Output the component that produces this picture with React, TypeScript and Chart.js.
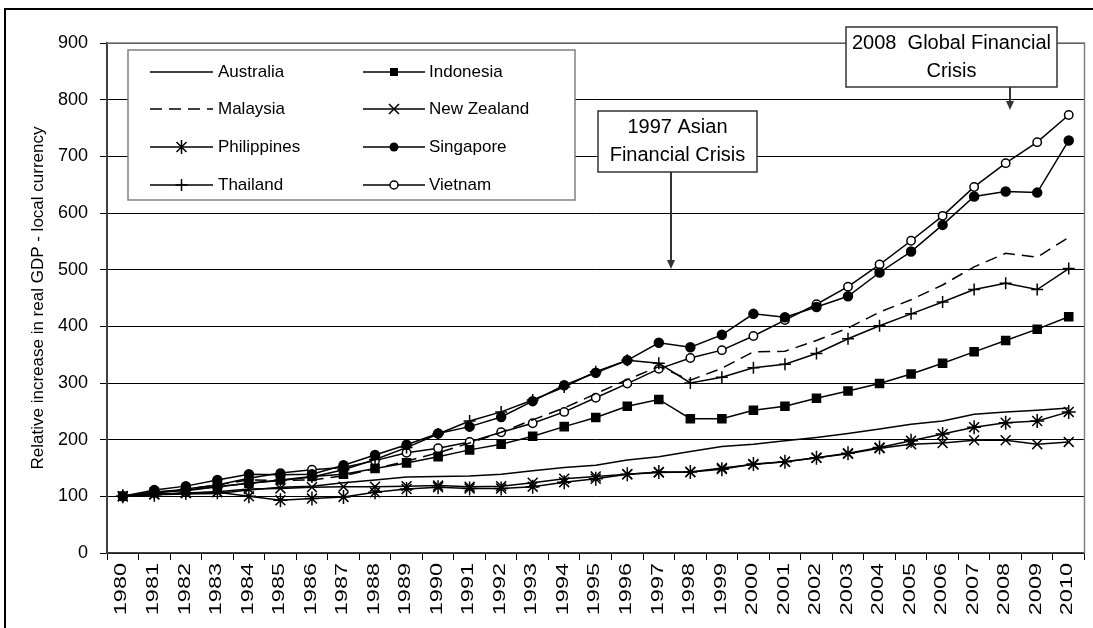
import React, { useEffect, useRef } from "react";
import { Chart, registerables } from "chart.js";

Chart.register(...registerables);

const years = ["1980","1981","1982","1983","1984","1985","1986","1987","1988","1989","1990","1991","1992","1993","1994","1995","1996","1997","1998","1999","2000","2001","2002","2003","2004","2005","2006","2007","2008","2009","2010"];

const australia = [100,103,104,105,111,116,118,124,129,134,135,136,139,145,151,155,164,170,179,188,192,198,204,211,219,227,233,245,249,252,256];
const indonesia = [100,108,110,117,123,129,135,139,149,159,170,182,192,206,223,239,259,271,237,237,252,259,273,286,299,316,335,355,375,395,417];
const malaysia = [100,107,113,120,129,128,129,136,149,162,177,194,213,235,256,281,306,329,305,326,355,356,375,397,425,447,473,505,529,522,557];
const newZealand = [100,104,106,108,113,114,116,117,117,118,119,117,118,124,131,135,139,142,143,150,156,161,168,175,185,192,194,199,199,192,196];
const philippines = [100,103,106,107,100,93,96,99,107,113,116,114,114,117,125,131,139,143,143,148,157,161,168,176,186,198,210,222,230,233,249];
const singapore = [100,111,118,129,139,138,139,155,173,191,211,223,240,268,296,318,340,371,363,385,422,416,434,453,495,532,579,629,638,636,728];
const thailand = [100,106,111,117,123,128,134,147,165,186,210,233,249,270,293,320,340,335,300,310,327,333,352,378,401,422,443,465,476,465,502];
const vietnam = [100,106,113,120,132,141,147,151,163,177,185,196,213,229,249,274,299,325,344,358,383,411,439,470,509,551,595,646,688,725,773];

const yTicks = [0,100,200,300,400,500,600,700,800,900];
const yTitle = "Relative increase in real GDP - local currency";
const note1997 = ["1997 Asian", "Financial Crisis"];
const note2008 = ["2008  Global Financial", "Crisis"];

const FONT = "'Liberation Sans', Arial, sans-serif";

type Marker = "none" | "rect" | "circle" | "open" | "crossRot" | "star" | "cross";

const seriesDefs: { name: string; data: number[]; marker: Marker; dash?: number[] }[] = [
  { name: "Australia", data: australia, marker: "none" },
  { name: "Indonesia", data: indonesia, marker: "rect" },
  { name: "Malaysia", data: malaysia, marker: "none", dash: [12, 7] },
  { name: "New Zealand", data: newZealand, marker: "crossRot" },
  { name: "Philippines", data: philippines, marker: "star" },
  { name: "Singapore", data: singapore, marker: "circle" },
  { name: "Thailand", data: thailand, marker: "cross" },
  { name: "Vietnam", data: vietnam, marker: "open" },
];

function drawMarker(ctx: CanvasRenderingContext2D, m: Marker, x: number, y: number) {
  ctx.save();
  ctx.strokeStyle = "#000";
  ctx.fillStyle = "#000";
  ctx.lineWidth = 1.5;
  if (m === "rect") {
    ctx.fillRect(x - 4, y - 4, 8, 8);
  } else if (m === "circle") {
    ctx.beginPath(); ctx.arc(x, y, 4.5, 0, Math.PI * 2); ctx.fill();
  } else if (m === "open") {
    ctx.beginPath(); ctx.arc(x, y, 4, 0, Math.PI * 2); ctx.fillStyle = "#fff"; ctx.fill(); ctx.stroke();
  } else if (m === "crossRot" || m === "star") {
    const d = 5;
    ctx.beginPath();
    ctx.moveTo(x - d, y - d); ctx.lineTo(x + d, y + d);
    ctx.moveTo(x + d, y - d); ctx.lineTo(x - d, y + d);
    if (m === "star") { ctx.moveTo(x, y - 7); ctx.lineTo(x, y + 7); }
    ctx.stroke();
  } else if (m === "cross") {
    ctx.beginPath();
    ctx.moveTo(x - 6, y); ctx.lineTo(x + 6, y);
    ctx.moveTo(x, y - 6); ctx.lineTo(x, y + 6);
    ctx.stroke();
  }
  ctx.restore();
}

function drawArrow(ctx: CanvasRenderingContext2D, x: number, y1: number, y2: number) {
  ctx.save();
  ctx.strokeStyle = "#333";
  ctx.fillStyle = "#333";
  ctx.lineWidth = 2;
  ctx.beginPath(); ctx.moveTo(x, y1); ctx.lineTo(x, y2 - 8); ctx.stroke();
  ctx.beginPath(); ctx.moveTo(x - 4, y2 - 9); ctx.lineTo(x + 4, y2 - 9); ctx.lineTo(x, y2); ctx.closePath(); ctx.fill();
  ctx.restore();
}

function drawNote(ctx: CanvasRenderingContext2D, x: number, y: number, w: number, h: number, lines: string[]) {
  ctx.save();
  ctx.fillStyle = "#fff";
  ctx.fillRect(x, y, w, h);
  ctx.strokeStyle = "#333";
  ctx.lineWidth = 1.5;
  ctx.strokeRect(x, y, w, h);
  ctx.fillStyle = "#000";
  ctx.font = `20px ${FONT}`;
  ctx.textAlign = "center";
  ctx.textBaseline = "middle";
  const lh = 28;
  const cy = y + h / 2 - ((lines.length - 1) * lh) / 2;
  lines.forEach((t, i) => ctx.fillText(t, x + w / 2, cy + i * lh));
  ctx.restore();
}

const overlayPlugin = {
  id: "overlay",
  beforeDraw(chart: any) {
    const ctx = chart.ctx as CanvasRenderingContext2D;
    ctx.save();
    ctx.fillStyle = "#fff";
    ctx.fillRect(0, 0, chart.width, chart.height);
    ctx.strokeStyle = "#000";
    ctx.lineWidth = 2;
    ctx.beginPath();
    ctx.moveTo(5, chart.height + 5);
    ctx.lineTo(5, 9);
    ctx.lineTo(chart.width + 5, 9);
    ctx.stroke();
    ctx.restore();
  },
  afterDraw(chart: any) {
    const ctx = chart.ctx as CanvasRenderingContext2D;
    const { left, top, right } = chart.chartArea;
    const xs = chart.scales.x;
    const y0 = chart.scales.y.getPixelForValue(0);
    ctx.save();
    ctx.strokeStyle = "#808080";
    ctx.lineWidth = 1.5;
    ctx.beginPath();
    ctx.moveTo(left, top); ctx.lineTo(right, top); ctx.lineTo(right, y0);
    ctx.stroke();
    ctx.restore();

    // x tick labels (rotated, elongated like the reference rendering)
    ctx.save();
    ctx.fillStyle = "#000";
    ctx.font = `17px ${FONT}`;
    ctx.textAlign = "right";
    ctx.textBaseline = "middle";
    years.forEach((lab, i) => {
      const px = xs.getPixelForValue(i);
      ctx.save();
      ctx.translate(px - 1, y0 + 10);
      ctx.rotate(-Math.PI / 2);
      ctx.scale(1.38, 1);
      ctx.fillText(lab, 0, 0);
      ctx.restore();
    });
    ctx.restore();

    // legend
    ctx.save();
    ctx.fillStyle = "#fff";
    ctx.fillRect(128, 50, 447, 150);
    ctx.strokeStyle = "#808080";
    ctx.lineWidth = 1.5;
    ctx.strokeRect(128, 50, 447, 150);
    const rows = [72, 109, 147, 185];
    const cols = [
      { x0: 150, x1: 213, tx: 218 },
      { x0: 363, x1: 425, tx: 429 },
    ];
    seriesDefs.forEach((s, i) => {
      const c = cols[i % 2];
      const y = rows[Math.floor(i / 2)];
      ctx.save();
      ctx.strokeStyle = "#000";
      ctx.lineWidth = 1.5;
      if (s.dash) ctx.setLineDash(s.dash);
      ctx.beginPath(); ctx.moveTo(c.x0, y); ctx.lineTo(c.x1, y); ctx.stroke();
      ctx.restore();
      drawMarker(ctx, s.marker, (c.x0 + c.x1) / 2, y);
      ctx.fillStyle = "#000";
      ctx.font = `17px ${FONT}`;
      ctx.textAlign = "left";
      ctx.textBaseline = "middle";
      ctx.fillText(s.name, c.tx, y);
    });
    ctx.restore();

    // annotations
    drawNote(ctx, 598, 111, 159, 61, note1997);
    drawArrow(ctx, 671, 172, 269);
    drawNote(ctx, 846, 27, 211, 60, note2008);
    drawArrow(ctx, 1010, 87, 110);
  },
};

const pointStyleFor = (m: Marker): any => {
  switch (m) {
    case "rect": return "rect";
    case "circle": return "circle";
    case "open": return "circle";
    case "crossRot": return "crossRot";
    case "star": return "star";
    case "cross": return "cross";
    default: return false;
  }
};
const radiusFor = (m: Marker) => {
  switch (m) {
    case "rect": return 5.7;
    case "circle": return 4.5;
    case "open": return 4.2;
    case "crossRot": return 7;
    case "star": return 7;
    case "cross": return 6;
    default: return 0;
  }
};

export default function App() {
  const ref = useRef<HTMLCanvasElement | null>(null);
  useEffect(() => {
    if (!ref.current) return;
    const chart = new Chart(ref.current, {
      type: "line",
      data: {
        labels: years,
        datasets: seriesDefs.map((s) => ({
          label: s.name,
          data: s.data,
          borderColor: "#000",
          borderWidth: 1.5,
          borderDash: s.dash || [],
          backgroundColor: s.marker === "open" ? "#fff" : "#000",
          pointStyle: pointStyleFor(s.marker),
          pointRadius: radiusFor(s.marker),
          pointBorderColor: "#000",
          pointBackgroundColor: s.marker === "open" ? "#fff" : "#000",
          pointBorderWidth: 1.5,
          tension: 0,
          fill: false,
        })),
      },
      options: {
        responsive: false,
        animation: false,
        events: [],
        layout: { padding: { left: 0, top: 43, right: 6, bottom: 0 } },
        plugins: {
          legend: { display: false },
          tooltip: { enabled: false },
          title: { display: false },
        },
        scales: {
          x: {
            type: "category",
            offset: true,
            grid: {
              offset: true,
              drawOnChartArea: false,
              drawTicks: true,
              tickLength: 7,
              color: "#000",
              lineWidth: 1,
            },
            border: { display: true, color: "#404040", width: 1.5 },
            ticks: { display: false, autoSkip: false },
            afterFit: (scale: any) => { scale.height = 75; },
          },
          y: {
            min: 0,
            max: 900,
            afterBuildTicks: (scale: any) => { scale.ticks = yTicks.map((v) => ({ value: v })); },
            grid: { color: "#000", lineWidth: 1, tickLength: 7, drawTicks: true },
            border: { display: true, color: "#404040", width: 2 },
            ticks: {
              padding: 12,
              color: "#000",
              font: { family: FONT, size: 18 },
            },
            title: {
              display: true,
              text: yTitle,
              color: "#000",
              font: { family: FONT, size: 17 },
              padding: { top: 28, bottom: 0 },
            },
            afterFit: (scale: any) => { scale.width = 107; },
          },
        },
      },
      plugins: [overlayPlugin],
    });
    return () => chart.destroy();
  }, []);
  return (
    <div style={{ position: "fixed", left: 0, top: 0, width: 1093, height: 628, overflow: "hidden" }}>
      <canvas ref={ref} width={1093} height={628} style={{ display: "block" }} />
    </div>
  );
}
